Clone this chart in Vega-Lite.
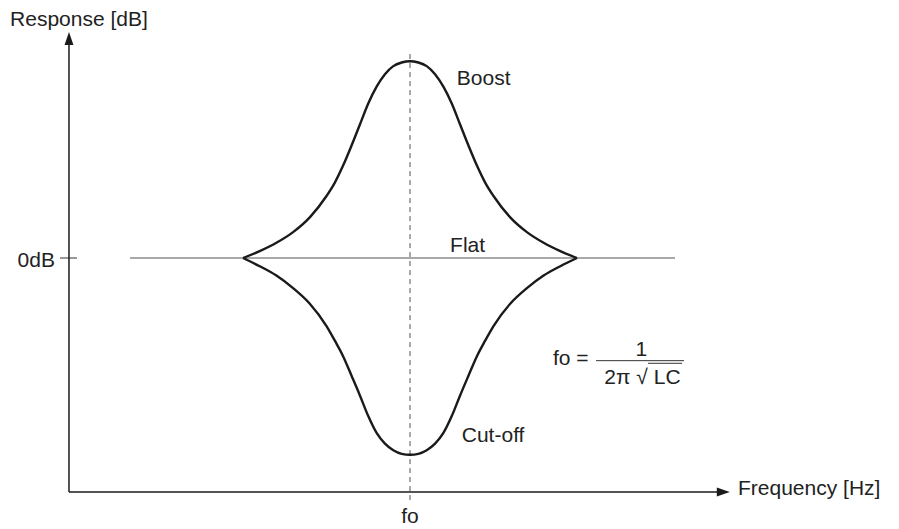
{
  "$schema": "https://vega.github.io/schema/vega-lite/v6.json",
  "width": 899,
  "height": 529,
  "autosize": {"type": "none"},
  "padding": 0,
  "background": "white",
  "config": {"view": {"stroke": null}},
  "datasets": {
    "curves": [
      {"series": "Boost", "freq": -1.0, "db": 0},
      {"series": "Boost", "freq": -0.9, "db": 0.42},
      {"series": "Boost", "freq": -0.8, "db": 0.93},
      {"series": "Boost", "freq": -0.7, "db": 1.58},
      {"series": "Boost", "freq": -0.6, "db": 2.48},
      {"series": "Boost", "freq": -0.5, "db": 3.78},
      {"series": "Boost", "freq": -0.45, "db": 4.6},
      {"series": "Boost", "freq": -0.4, "db": 5.65},
      {"series": "Boost", "freq": -0.35, "db": 6.86},
      {"series": "Boost", "freq": -0.3, "db": 8.14},
      {"series": "Boost", "freq": -0.25, "db": 9.42},
      {"series": "Boost", "freq": -0.2, "db": 10.45},
      {"series": "Boost", "freq": -0.15, "db": 11.21},
      {"series": "Boost", "freq": -0.1, "db": 11.7},
      {"series": "Boost", "freq": -0.05, "db": 11.92},
      {"series": "Boost", "freq": 0, "db": 12.0},
      {"series": "Boost", "freq": 0.05, "db": 11.92},
      {"series": "Boost", "freq": 0.1, "db": 11.7},
      {"series": "Boost", "freq": 0.15, "db": 11.21},
      {"series": "Boost", "freq": 0.2, "db": 10.45},
      {"series": "Boost", "freq": 0.25, "db": 9.42},
      {"series": "Boost", "freq": 0.3, "db": 8.14},
      {"series": "Boost", "freq": 0.35, "db": 6.86},
      {"series": "Boost", "freq": 0.4, "db": 5.65},
      {"series": "Boost", "freq": 0.45, "db": 4.6},
      {"series": "Boost", "freq": 0.5, "db": 3.78},
      {"series": "Boost", "freq": 0.6, "db": 2.48},
      {"series": "Boost", "freq": 0.7, "db": 1.58},
      {"series": "Boost", "freq": 0.8, "db": 0.93},
      {"series": "Boost", "freq": 0.9, "db": 0.42},
      {"series": "Boost", "freq": 1.0, "db": 0},
      {"series": "Cut-off", "freq": -1.0, "db": 0},
      {"series": "Cut-off", "freq": -0.9, "db": -0.5},
      {"series": "Cut-off", "freq": -0.8, "db": -1.07},
      {"series": "Cut-off", "freq": -0.7, "db": -1.84},
      {"series": "Cut-off", "freq": -0.6, "db": -2.79},
      {"series": "Cut-off", "freq": -0.5, "db": -4.15},
      {"series": "Cut-off", "freq": -0.45, "db": -5.04},
      {"series": "Cut-off", "freq": -0.4, "db": -6.0},
      {"series": "Cut-off", "freq": -0.35, "db": -7.18},
      {"series": "Cut-off", "freq": -0.3, "db": -8.38},
      {"series": "Cut-off", "freq": -0.25, "db": -9.64},
      {"series": "Cut-off", "freq": -0.2, "db": -10.67},
      {"series": "Cut-off", "freq": -0.15, "db": -11.32},
      {"series": "Cut-off", "freq": -0.1, "db": -11.72},
      {"series": "Cut-off", "freq": -0.05, "db": -11.94},
      {"series": "Cut-off", "freq": 0, "db": -12.0},
      {"series": "Cut-off", "freq": 0.05, "db": -11.94},
      {"series": "Cut-off", "freq": 0.1, "db": -11.72},
      {"series": "Cut-off", "freq": 0.15, "db": -11.32},
      {"series": "Cut-off", "freq": 0.2, "db": -10.67},
      {"series": "Cut-off", "freq": 0.25, "db": -9.64},
      {"series": "Cut-off", "freq": 0.3, "db": -8.38},
      {"series": "Cut-off", "freq": 0.35, "db": -7.18},
      {"series": "Cut-off", "freq": 0.4, "db": -6.0},
      {"series": "Cut-off", "freq": 0.45, "db": -5.04},
      {"series": "Cut-off", "freq": 0.5, "db": -4.15},
      {"series": "Cut-off", "freq": 0.6, "db": -2.79},
      {"series": "Cut-off", "freq": 0.7, "db": -1.84},
      {"series": "Cut-off", "freq": 0.8, "db": -1.07},
      {"series": "Cut-off", "freq": 0.9, "db": -0.5},
      {"series": "Cut-off", "freq": 1.0, "db": 0}
    ],
    "segments": [
      {"part": "axis", "x": -2.042, "x2": -2.042, "y": -14.27, "y2": 12.99},
      {"part": "axis", "x": -2.042, "x2": 1.84, "y": -14.27, "y2": -14.27},
      {"part": "tick", "x": -2.096, "x2": -1.994, "y": 0, "y2": 0},
      {"part": "flat", "x": -1.677, "x2": 1.587, "y": 0, "y2": 0},
      {"part": "center", "x": 0, "x2": 0, "y": -14.76, "y2": 12.5},
      {"part": "formula", "x": 1.114, "x2": 1.641, "y": -6.26, "y2": -6.26},
      {"part": "formula", "x": 1.425, "x2": 1.629, "y": -6.42, "y2": -6.42}
    ],
    "arrows": [
      {"dir": "up", "x": -2.042, "y": 13.38},
      {"dir": "right", "x": 1.876, "y": -14.27}
    ],
    "labels": [
      {"align": "left", "label": "Response [dB]", "x": -2.395, "y": 14.12},
      {"align": "left", "label": "Boost", "x": 0.28, "y": 10.55},
      {"align": "left", "label": "Flat", "x": 0.24, "y": 0.35},
      {"align": "left", "label": "Cut-off", "x": 0.31, "y": -11.2},
      {"align": "left", "label": "Frequency [Hz]", "x": 1.964, "y": -14.45},
      {"align": "left", "label": "fo =", "x": 0.856, "y": -6.52},
      {"align": "right", "label": "0dB", "x": -2.126, "y": -0.567},
      {"align": "center", "label": "fo", "x": 0, "y": -16.18},
      {"align": "center", "label": "1", "x": 1.386, "y": -5.96},
      {"align": "center", "label": "2π √ LC", "x": 1.392, "y": -7.68}
    ]
  },
  "layer": [
    {
      "data": {"name": "segments"},
      "transform": [{"filter": "datum.part === 'center'"}],
      "mark": {"type": "rule", "color": "#555555", "strokeWidth": 1, "strokeDash": [5, 4]},
      "encoding": {
        "x": {"field": "x", "type": "quantitative", "scale": {"domain": [-2.4551, 2.9281], "nice": false, "zero": false}, "axis": null},
        "x2": {"field": "x2"},
        "y": {"field": "y", "type": "quantitative", "scale": {"domain": [-16.524, 15.732], "nice": false, "zero": false}, "axis": null},
        "y2": {"field": "y2"}
      }
    },
    {
      "data": {"name": "segments"},
      "transform": [{"filter": "datum.part === 'flat'"}],
      "mark": {"type": "rule", "color": "#555555", "strokeWidth": 1.2},
      "encoding": {
        "x": {"field": "x", "type": "quantitative"},
        "x2": {"field": "x2"},
        "y": {"field": "y", "type": "quantitative"},
        "y2": {"field": "y2"}
      }
    },
    {
      "data": {"name": "segments"},
      "transform": [{"filter": "datum.part === 'tick' || datum.part === 'formula'"}],
      "mark": {"type": "rule", "color": "#333333", "strokeWidth": 1},
      "encoding": {
        "x": {"field": "x", "type": "quantitative"},
        "x2": {"field": "x2"},
        "y": {"field": "y", "type": "quantitative"},
        "y2": {"field": "y2"}
      }
    },
    {
      "data": {"name": "segments"},
      "transform": [{"filter": "datum.part === 'axis'"}],
      "mark": {"type": "rule", "color": "#1a1a1a", "strokeWidth": 1.5},
      "encoding": {
        "x": {"field": "x", "type": "quantitative"},
        "x2": {"field": "x2"},
        "y": {"field": "y", "type": "quantitative"},
        "y2": {"field": "y2"}
      }
    },
    {
      "data": {"name": "arrows"},
      "transform": [{"filter": "datum.dir === 'up'"}],
      "mark": {"type": "point", "shape": "M0,-1L0.69,1L-0.69,1Z", "size": 169, "filled": true, "color": "#1a1a1a", "opacity": 1},
      "encoding": {
        "x": {"field": "x", "type": "quantitative"},
        "y": {"field": "y", "type": "quantitative"}
      }
    },
    {
      "data": {"name": "arrows"},
      "transform": [{"filter": "datum.dir === 'right'"}],
      "mark": {"type": "point", "shape": "M1,0L-1,0.69L-1,-0.69Z", "size": 169, "filled": true, "color": "#1a1a1a", "opacity": 1},
      "encoding": {
        "x": {"field": "x", "type": "quantitative"},
        "y": {"field": "y", "type": "quantitative"}
      }
    },
    {
      "data": {"name": "curves"},
      "mark": {"type": "line", "color": "#1a1a1a", "strokeWidth": 2.4, "interpolate": "monotone", "strokeJoin": "miter"},
      "encoding": {
        "x": {"field": "freq", "type": "quantitative"},
        "y": {"field": "db", "type": "quantitative"},
        "detail": {"field": "series"}
      }
    },
    {
      "data": {"name": "labels"},
      "transform": [{"filter": "datum.align === 'left'"}],
      "mark": {"type": "text", "align": "left", "baseline": "alphabetic", "font": "Liberation Sans", "fontSize": 21, "color": "#222222"},
      "encoding": {
        "x": {"field": "x", "type": "quantitative"},
        "y": {"field": "y", "type": "quantitative"},
        "text": {"field": "label"}
      }
    },
    {
      "data": {"name": "labels"},
      "transform": [{"filter": "datum.align === 'right'"}],
      "mark": {"type": "text", "align": "right", "baseline": "alphabetic", "font": "Liberation Sans", "fontSize": 21, "color": "#222222"},
      "encoding": {
        "x": {"field": "x", "type": "quantitative"},
        "y": {"field": "y", "type": "quantitative"},
        "text": {"field": "label"}
      }
    },
    {
      "data": {"name": "labels"},
      "transform": [{"filter": "datum.align === 'center'"}],
      "mark": {"type": "text", "align": "center", "baseline": "alphabetic", "font": "Liberation Sans", "fontSize": 21, "color": "#222222"},
      "encoding": {
        "x": {"field": "x", "type": "quantitative"},
        "y": {"field": "y", "type": "quantitative"},
        "text": {"field": "label"}
      }
    }
  ]
}
